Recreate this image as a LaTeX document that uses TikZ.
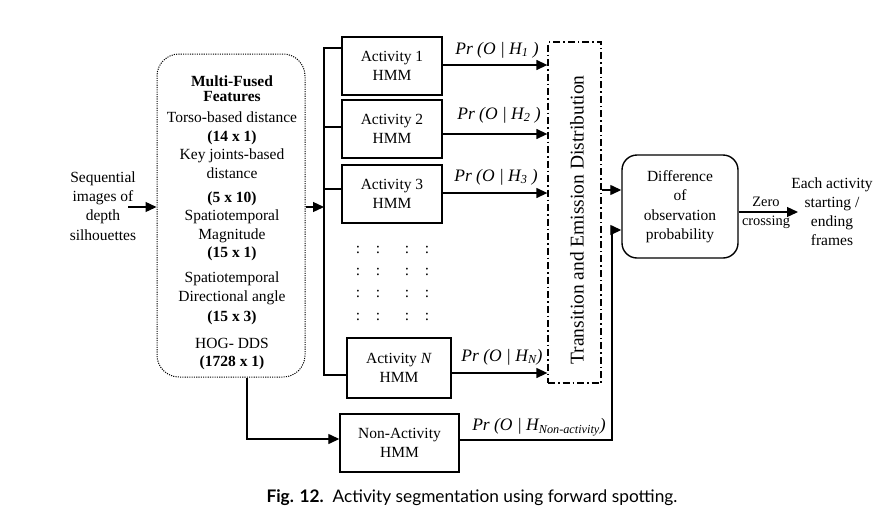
\documentclass[tikz,border=0pt]{standalone}
\usepackage{fontspec}
\setmainfont{Liberation Serif}
\newfontfamily\capfont{Lato}
\usetikzlibrary{arrows.meta}
\begin{document}
\begin{tikzpicture}[x=1pt,y=-1pt,
  txt/.style={font=\fontsize{15.5}{18.5}\selectfont, align=center, inner sep=0pt},
  hmm/.style={draw, line width=1.4pt, minimum width=#1, minimum height=58pt, inner sep=0pt, txt},
  hmm/.default=100pt,
  arr/.style={line width=1.3pt, -{Triangle[length=11pt,width=10pt]}},
  ln/.style={line width=1.3pt},
  prl/.style={font=\fontsize{17.5}{20}\selectfont\itshape, inner sep=0pt},
  colon/.style={font=\fontsize{15.5}{18}\selectfont, inner sep=0pt},
]
\useasboundingbox (0,0) rectangle (895,528);
\fill[white] (0,0) rectangle (895,528);

% input text
\node[txt, font=\fontsize{15.5}{19.3}\selectfont] (in) at (103,206) {Sequential\\images of\\depth\\silhouettes};
\coordinate (ia) at (128,207);

% features box
\node[draw, line width=1pt, dash pattern=on 1.1pt off 1.2pt, rounded corners=22pt,
      minimum width=148pt, minimum height=323pt] (feat) at (231,215.5) {};
\node[txt] (ft) at (232,223) {\textbf{Multi-Fused}\\[-3.5pt]
  \textbf{Features}\\[2.5pt]
  Torso-based distance\\
  \textbf{(14 x 1)}\\
  Key joints-based\\
  distance\\[5.5pt]
  \textbf{(5 x 10)}\\
  Spatiotemporal\\
  Magnitude\\
  \textbf{(15 x 1)}\\[6.5pt]
  Spatiotemporal\\
  Directional angle\\[1.5pt]
  \textbf{(15 x 3)}\\[8.5pt]
  HOG- DDS\\
  \textbf{(1728 x 1)}};
\draw[arr] (ia) -- (feat.west |- ia);

% HMM boxes
\node[hmm] (a1) at (392,66) {Activity 1\\HMM};
\node[hmm] (a2) at (392,129) {Activity 2\\HMM};
\node[hmm] (a3) at (392,194) {Activity 3\\HMM};
\node[hmm=104pt, minimum height=60pt] (aN) at (399,368) {Activity \textit{N}\\HMM};
\node[hmm=119pt] (na) at (399.5,443) {Non-Activity\\HMM};

% dots
\foreach \cx [count=\i] in {358,378,407,427}{
  \foreach \cy [count=\j] in {250,272,294,317}{
    \node[colon] (d\i\j) at (\cx,\cy) {:};
  }
}

% bus
\coordinate (bt) at (324,48);
\coordinate (bb) at (324,375);
\coordinate (bm) at (324,207);
\draw[ln] (a1.west |- bt) -- (bt) -- (bb) -- (aN.west |- bb);
\draw[ln] (bt |- 0,127) -- (a2.west |- 0,127);
\draw[ln] (bt |- 0,189) -- (a3.west |- 0,189);
\draw[arr] (feat.east |- bm) -- (bm);

% transition box
\node[draw, line width=1.3pt, dash pattern=on 7pt off 3pt on 1.5pt off 3pt,
      minimum width=53pt, minimum height=341pt, inner sep=0pt] (td) at (574.5,212.5) {};
\node[rotate=90, font=\fontsize{19.5}{22}\selectfont, inner sep=0pt] (tdt) at (577,220) {Transition and Emission Distribution};

% arrows to transition box
\draw[arr] (a1.east |- 0,65) -- (td.west |- 0,65);
\draw[arr] (a2.east |- 0,134) -- (td.west |- 0,134);
\draw[arr] (a3.east |- 0,193) -- (td.west |- 0,193);
\draw[arr] (aN.east |- 0,373) -- (td.west |- 0,373);

% labels
\node[prl] (l1) at (497,50) {Pr (O | H\textsubscript{1} )};
\node[prl] (l2) at (499,115) {Pr (O | H\textsubscript{2} )};
\node[prl] (l3) at (496,177) {Pr (O | H\textsubscript{3} )};
\node[prl] (lN) at (502,357) {Pr (O | H\textsubscript{N})};
\node[prl] (lna) at (539,427) {Pr (O | H\textsubscript{Non-activity})};

% difference box
\node[draw, line width=1.4pt, rounded corners=15pt, minimum width=116pt, minimum height=103pt,
      txt, font=\fontsize{15.5}{19.5}\selectfont] (diff) at (680,206.5) {Difference\\of\\observation\\probability};
\draw[arr] (td.east |- 0,190) -- (diff.west |- 0,190);

% non-activity path
\coordinate (fb) at (247,439);
\draw[arr] (feat.south -| fb) -- (fb) -- (na.west |- fb);
\coordinate (nr) at (612,230);
\draw[arr] (na.east |- 0,440) -| (nr) -- (diff.west |- nr);

% output
\coordinate (ot) at (798,212);
\draw[arr] (diff.east |- ot) -- (ot);
\node[txt, font=\fontsize{14.4}{19}\selectfont] (zc) at (766,212.5) {Zero\\crossing};
\node[txt, font=\fontsize{15.5}{19}\selectfont] (out) at (832,211.5) {Each activity\\starting /\\ending\\frames};

% caption
\node[inner sep=0pt, font=\capfont\fontsize{17.3}{20}\selectfont] (cap) at (472,498) {\textbf{Fig. 12.}\ \ Activity segmentation using forward spotting.};
\end{tikzpicture}
\end{document}
